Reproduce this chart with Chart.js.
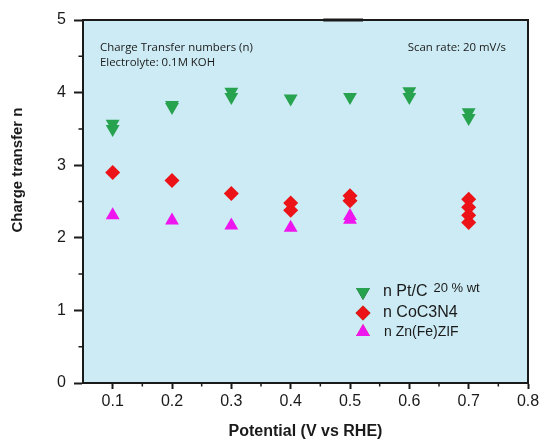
<!DOCTYPE html>
<html>
<head>
<meta charset="utf-8">
<script src="https://cdn.jsdelivr.net/npm/chart.js@4.4.1/dist/chart.umd.min.js"></script>
<style>
  html, body { margin: 0; padding: 0; background: #fff; }
  #wrap { width: 543px; height: 441px; }
</style>
</head>
<body>
<div id="wrap"><canvas id="chart" width="543" height="441"></canvas></div>
<script>
// values: [potential, n]
const ptcPoints  = [[0.1, 3.57], [0.1, 3.50], [0.2, 3.83], [0.2, 3.80], [0.3, 4.01], [0.3, 3.94],
                    [0.4, 3.92], [0.5, 3.94], [0.6, 4.02], [0.6, 3.94], [0.7, 3.73], [0.7, 3.65]];
const cocnPoints = [[0.1, 2.90], [0.2, 2.79], [0.3, 2.61], [0.4, 2.48], [0.4, 2.38], [0.5, 2.58],
                    [0.5, 2.51], [0.7, 2.53], [0.7, 2.42], [0.7, 2.31], [0.7, 2.21]];
const zifPoints  = [[0.1, 2.31], [0.2, 2.24], [0.3, 2.17], [0.4, 2.14], [0.5, 2.30], [0.5, 2.25]];

const seriesNames = ['n Pt/C', 'n CoC3N4', 'n Zn(Fe)ZIF'];
const seriesNotes = ['20 % wt', '', ''];
const noteLines   = ['Charge Transfer numbers (n)', 'Electrolyte: 0.1M KOH'];
const scanNote    = 'Scan rate: 20 mV/s';

const xTicks = [0.1, 0.2, 0.3, 0.4, 0.5, 0.6, 0.7, 0.8];
const yTicks = [0, 1, 2, 3, 4, 5];

const GREEN = '#27a24f';
const RED = '#ec1318';
const MAGENTA = '#ee16ee';
const INK = '#1a1a1a';

const toXY = (arr) => arr.map(([x, y]) => ({ x, y }));

// background, frame, minor ticks, notes, custom legend, y title
const decorPlugin = {
    id: 'decor',
    beforeDatasetsDraw(chart) {
        const { ctx, chartArea: a } = chart;
        ctx.save();
        ctx.fillStyle = '#cdebf4';
        ctx.fillRect(a.left, a.top, a.right - a.left, a.bottom - a.top);
        ctx.restore();
    },
    afterDraw(chart) {
        const { ctx, chartArea: a, scales } = chart;
        const xs = scales.x, ys = scales.y;
        ctx.save();
        ctx.strokeStyle = INK;
        ctx.lineWidth = 2;
        ctx.strokeRect(a.left, a.top, a.right - a.left, a.bottom - a.top);

        // short thick piece on top border
        ctx.lineWidth = 3;
        ctx.beginPath();
        ctx.moveTo(xs.getPixelForValue(0.455), a.top);
        ctx.lineTo(xs.getPixelForValue(0.522), a.top);
        ctx.stroke();

        // minor ticks
        ctx.lineWidth = 1.5;
        ctx.beginPath();
        for (let v = 0.15; v < 0.8; v += 0.1) {
            const px = xs.getPixelForValue(v);
            ctx.moveTo(px, a.bottom);
            ctx.lineTo(px, a.bottom + 3.5);
        }
        for (let v = 0.5; v < 5; v += 1) {
            const py = ys.getPixelForValue(v);
            ctx.moveTo(a.left, py);
            ctx.lineTo(a.left - 4.5, py);
        }
        ctx.stroke();

        // notes
        ctx.fillStyle = INK;
        ctx.font = '11.4px "Open Sans", sans-serif';
        ctx.textBaseline = 'alphabetic';
        ctx.textAlign = 'left';
        ctx.fillText(noteLines[0], 100, 51);
        ctx.fillText(noteLines[1], 100, 66);
        ctx.textAlign = 'right';
        ctx.fillText(scanNote, 506, 51);

        // legend
        const lx = 363, ly = [292, 313, 332];
        chart.data.datasets.forEach((ds, i) => {
            Chart.helpers.drawPoint(ctx, {
                pointStyle: ds.pointStyle,
                radius: ds.pointRadius,
                rotation: ds.rotation || 0,
                borderWidth: 0,
            }, lx, ly[i]);
            ctx.fillStyle = ds.backgroundColor;
            ctx.fill();
        });
        ctx.fillStyle = INK;
        ctx.textAlign = 'left';
        ctx.textBaseline = 'middle';
        ctx.font = '16px "Liberation Sans", Arial, sans-serif';
        ctx.fillText(seriesNames[0], 383, ly[0]);
        const w0 = ctx.measureText(seriesNames[0]).width;
        ctx.font = '13px "Liberation Sans", Arial, sans-serif';
        ctx.fillText(seriesNotes[0], 383 + w0 + 6, ly[0] - 4);
        ctx.font = '16px "Liberation Sans", Arial, sans-serif';
        ctx.fillText(seriesNames[1], 383, ly[1]);
        ctx.font = '14px "Liberation Sans", Arial, sans-serif';
        ctx.fillText(seriesNames[2], 384, ly[2]);

        // y axis title
        ctx.translate(18, 170);
        ctx.rotate(-Math.PI / 2);
        ctx.textAlign = 'center';
        ctx.font = 'bold 15px "Liberation Sans", Arial, sans-serif';
        ctx.fillText('Charge transfer n', 0, 0);
        ctx.restore();
    },
};

new Chart(document.getElementById('chart'), {
    type: 'scatter',
    data: {
        datasets: [
            { label: seriesNames[0], data: toXY(ptcPoints), pointStyle: 'triangle', rotation: 180,
              pointRadius: 8, backgroundColor: GREEN, borderWidth: 0 },
            { label: seriesNames[1], data: toXY(cocnPoints), pointStyle: 'rectRot',
              pointRadius: 7.5, backgroundColor: RED, borderWidth: 0 },
            { label: seriesNames[2], data: toXY(zifPoints), pointStyle: 'triangle',
              pointRadius: 8, backgroundColor: MAGENTA, borderWidth: 0 },
        ],
    },
    options: {
        responsive: false,
        animation: false,
        layout: { padding: { left: 0, right: 15, top: 20, bottom: 0 } },
        plugins: { legend: { display: false }, tooltip: { enabled: false } },
        scales: {
            x: {
                type: 'linear',
                min: 0.05,
                max: 0.8,
                afterBuildTicks: (s) => { s.ticks = xTicks.map((v) => ({ value: v })); },
                afterFit: (s) => { s.height = 58; },
                ticks: {
                    color: INK,
                    padding: 3,
                    maxRotation: 0,
                    font: { family: '"Liberation Sans", Arial, sans-serif', size: 16 },
                    callback: (v) => v.toFixed(1),
                },
                grid: { drawOnChartArea: false, drawTicks: true, tickLength: 6, tickWidth: 2, tickColor: INK },
                border: { display: true, color: INK, width: 2 },
                title: {
                    display: true,
                    text: 'Potential (V vs RHE)',
                    color: INK,
                    padding: { top: 0, bottom: 0 },
                    font: { family: '"Liberation Sans", Arial, sans-serif', size: 16, weight: 'bold' },
                },
            },
            y: {
                type: 'linear',
                min: 0,
                max: 5,
                afterBuildTicks: (s) => { s.ticks = yTicks.map((v) => ({ value: v })); },
                afterFit: (s) => { s.width = 83; },
                ticks: {
                    color: INK,
                    padding: 8,
                    font: { family: '"Liberation Sans", Arial, sans-serif', size: 16 },
                },
                grid: { drawOnChartArea: false, drawTicks: true, tickLength: 9, tickWidth: 2, tickColor: INK },
                border: { display: true, color: INK, width: 2 },
            },
        },
    },
    plugins: [decorPlugin],
});
</script>
</body>
</html>
